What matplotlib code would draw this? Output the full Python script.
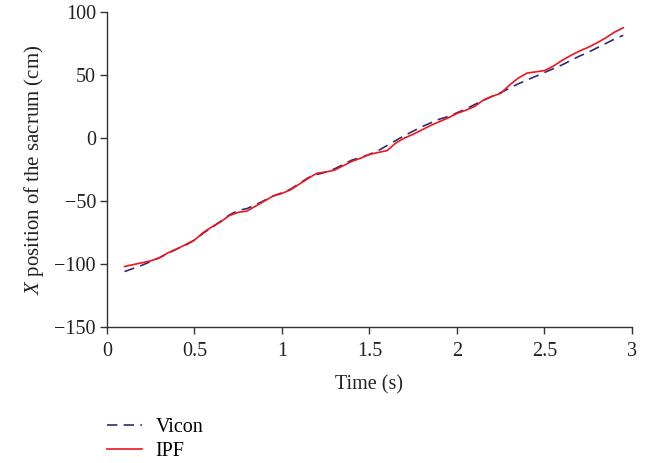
import numpy as np
import matplotlib
matplotlib.use("Agg")
import matplotlib.pyplot as plt

plt.rcParams['font.family'] = ['Liberation Serif', 'DejaVu Serif']
plt.rcParams['mathtext.fontset'] = 'custom'
plt.rcParams['mathtext.it'] = 'Liberation Serif:italic'
plt.rcParams['mathtext.rm'] = 'Liberation Serif'

time = [0.10, 0.15, 0.20, 0.25, 0.30, 0.35, 0.40, 0.45, 0.50, 0.55,
        0.60, 0.65, 0.70, 0.75, 0.80, 0.85, 0.90, 0.95, 1.00, 1.05,
        1.10, 1.15, 1.20, 1.25, 1.30, 1.35, 1.40, 1.45, 1.50, 1.55,
        1.60, 1.65, 1.70, 1.75, 1.80, 1.85, 1.90, 1.95, 2.00, 2.05,
        2.10, 2.15, 2.20, 2.25, 2.30, 2.35, 2.40, 2.45, 2.50, 2.55,
        2.60, 2.65, 2.70, 2.75, 2.80, 2.85, 2.90, 2.95]

vicon = [-106, -103.5, -101, -98, -95, -91.5, -88, -85, -81, -75.5,
         -71, -66, -61, -57.5, -56, -53, -49.5, -46, -43.5, -40.5,
         -36, -31.5, -29, -27, -24.5, -21, -17.5, -15.5, -13, -10,
         -6, -2, 2, 5.5, 9, 12, 15, 17, 20, 23,
         26.5, 30, 33, 36, 39.5, 43, 46, 49, 52, 55,
         58, 61.5, 65, 68, 71.5, 75, 78.5, 81.5]

ipf = [-102, -100.5, -99, -97.5, -95, -91, -88, -84.5, -81, -75,
       -70.5, -66.5, -61.5, -59, -58, -54, -50, -46, -44, -41,
       -36.5, -32, -28, -27, -25.5, -22, -18.5, -16, -13, -11.5,
       -10, -4, 0, 3, 6.5, 10, 13, 16, 19.5, 22,
       25, 30, 33, 35.5, 42, 47.5, 51.5, 52.5, 53.5, 57,
       61.5, 65.5, 69, 72, 75.5, 79.5, 84, 87.5]

xticks = [0, 0.5, 1, 1.5, 2, 2.5, 3]
xticklabels = ['0', '0.5', '1', '1.5', '2', '2.5', '3']
yticks = [-150, -100, -50, 0, 50, 100]
yticklabels = ['\u2212150', '\u2212100', '\u221250', '0', '50', '100']

FS = 14.5

fig = plt.figure(figsize=(6.54, 4.63), dpi=100)
ax = fig.add_axes([107/654, 1-327/463, (632-107)/654, (327-12)/463])

l1, = ax.plot(time, vicon, color='#2c2c72', lw=1.2, ls=(0, (6.2, 3.8)), label='Vicon')
l2, = ax.plot(time, ipf, color='#f0141e', lw=1.2, label='IPF')

ax.set_xlim(0, 3)
ax.set_ylim(-150, 100)
ax.set_xticks(xticks)
ax.set_xticklabels(xticklabels)
ax.set_yticks(yticks)
ax.set_yticklabels(yticklabels)
for s in ['top', 'right']:
    ax.spines[s].set_visible(False)
for s in ['left', 'bottom']:
    ax.spines[s].set_color('#333333')
    ax.spines[s].set_linewidth(1.0)
ax.tick_params(direction='out', length=5, width=1.0, color='#333333',
               labelsize=FS, labelcolor='#222222')
ax.tick_params(axis='x', pad=6)
ax.tick_params(axis='y', pad=3)
ax.set_xlabel('Time (s)', fontsize=FS, color='#222222', labelpad=10)
ax.set_ylabel(r'$\mathit{X}$ position of the sacrum (cm)', fontsize=15,
              color='#222222', labelpad=6)

fig.legend(handles=[l1, l2], loc='upper left', bbox_to_anchor=(99/654, 1-410/463),
           frameon=False, fontsize=FS, handlelength=1.75, handletextpad=0.65,
           labelspacing=0.25, borderaxespad=0)

fig.savefig('out.png', dpi=100)
